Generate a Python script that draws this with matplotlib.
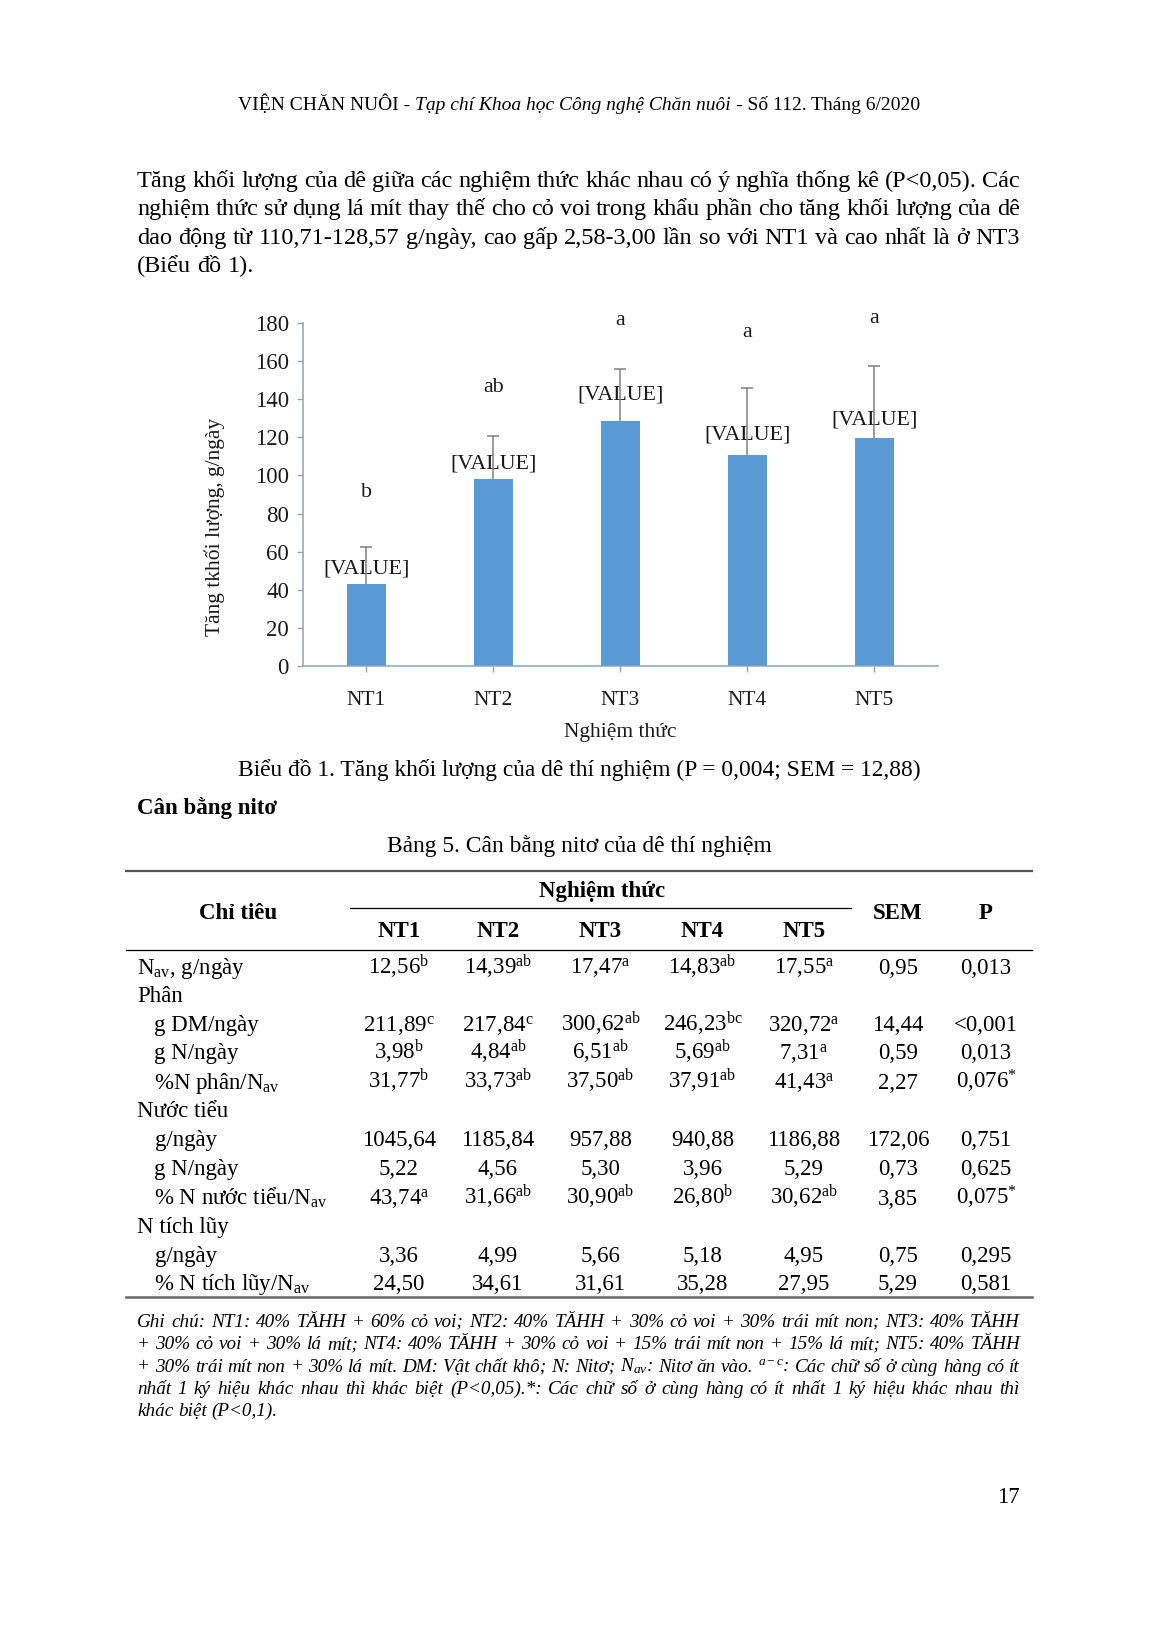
import matplotlib
matplotlib.use("Agg")
import matplotlib.pyplot as plt
from matplotlib.lines import Line2D
import numpy as np

plt.rcParams['font.family'] = ['Liberation Serif', 'DejaVu Serif']
plt.rcParams['mathtext.fontset'] = 'custom'
plt.rcParams['mathtext.rm'] = 'Liberation Serif'
plt.rcParams['mathtext.it'] = 'Liberation Serif:italic'
plt.rcParams['mathtext.bf'] = 'Liberation Serif:bold'

# ---- dữ liệu biểu đồ 1 ----
treatments = ['NT1', 'NT2', 'NT3', 'NT4', 'NT5']
gain = [42.86, 97.86, 128.57, 110.71, 119.64]
gain_err = [19.7, 22.8, 27.0, 35.3, 37.5]
letters = ['b', 'ab', 'a', 'a', 'a']
value_labels = ['[VALUE]', '[VALUE]', '[VALUE]', '[VALUE]', '[VALUE]']
yticks = [0, 20, 40, 60, 80, 100, 120, 140, 160, 180]

# vị trí (trục y) của nhãn
label_y = [51, 106, 142, 121, 129]
letter_y = [91, 146, 181, 175, 182]

# ---- dữ liệu bảng 5 ----
col_heads = ['NT1', 'NT2', 'NT3', 'NT4', 'NT5']
row_names = ['N$_{\\mathrm{av}}$, g/ngày', 'Phân', 'g DM/ngày', 'g N/ngày',
             '%N phân/N$_{\\mathrm{av}}$', 'Nước tiểu', 'g/ngày', 'g N/ngày',
             '% N nước tiểu/N$_{\\mathrm{av}}$', 'N tích lũy', 'g/ngày',
             '% N tích lũy/N$_{\\mathrm{av}}$']
row_indent = [0, 0, 1, 1, 1, 0, 1, 1, 1, 0, 1, 1]
row_vals = [
    ['12,56', '14,39', '17,47', '14,83', '17,55'],
    None,
    ['211,89', '217,84', '300,62', '246,23', '320,72'],
    ['3,98', '4,84', '6,51', '5,69', '7,31'],
    ['31,77', '33,73', '37,50', '37,91', '41,43'],
    None,
    ['1045,64', '1185,84', '957,88', '940,88', '1186,88'],
    ['5,22', '4,56', '5,30', '3,96', '5,29'],
    ['43,74', '31,66', '30,90', '26,80', '30,62'],
    None,
    ['3,36', '4,99', '5,66', '5,18', '4,95'],
    ['24,50', '34,61', '31,61', '35,28', '27,95'],
]
row_sups = [
    ['b', 'ab', 'a', 'ab', 'a'],
    None,
    ['c', 'c', 'ab', 'bc', 'a'],
    ['b', 'ab', 'ab', 'ab', 'a'],
    ['b', 'ab', 'ab', 'ab', 'a'],
    None,
    ['', '', '', '', ''],
    ['', '', '', '', ''],
    ['a', 'ab', 'ab', 'b', 'ab'],
    None,
    ['', '', '', '', ''],
    ['', '', '', '', ''],
]
row_sem = ['0,95', '', '14,44', '0,59', '2,27', '', '172,06', '0,73', '3,85', '', '0,75', '5,29']
row_p = ['0,013', '', '<0,001', '0,013', '0,076$^{*}$', '', '0,751', '0,625',
         '0,075$^{*}$', '', '0,295', '0,581']

header = [('VIỆN CHĂN NUÔI -', 'normal'), ('Tạp chí Khoa học Công nghệ Chăn nuôi', 'italic'),
          ('- Số 112. Tháng 6/2020', 'normal')]
para = ["Tăng khối lượng của dê giữa các nghiệm thức khác nhau có ý nghĩa thống kê (P<0,05). Các",
        "nghiệm thức sử dụng lá mít thay thế cho cỏ voi trong khẩu phần cho tăng khối lượng của dê",
        "dao động từ 110,71-128,57 g/ngày, cao gấp 2,58-3,00 lần so với NT1 và cao nhất là ở NT3",
        "(Biểu đồ 1)."]
notes = ["Ghi chú: NT1: 40% TĂHH + 60% cỏ voi; NT2: 40% TĂHH + 30% cỏ voi + 30% trái mít non; NT3: 40% TĂHH",
         "+ 30% cỏ voi + 30% lá mít; NT4: 40% TĂHH + 30% cỏ voi + 15% trái mít non + 15% lá mít; NT5: 40% TĂHH",
         "+ 30% trái mít non + 30% lá mít. DM: Vật chất khô; N: Nitơ; N$_{av}$: Nitơ ăn vào. $^{a-c}$: Các chữ số ở cùng hàng có ít",
         "nhất 1 ký hiệu khác nhau thì khác biệt (P<0,05).*: Các chữ số ở cùng hàng có ít nhất 1 ký hiệu khác nhau thì",
         "khác biệt (P<0,1)."]

W, H = 1158, 1637
fig = plt.figure(figsize=(W / 100, H / 100), dpi=100)
fig.patch.set_facecolor('white')
renderer = fig.canvas.get_renderer()


def put(x, y, s, size, **kw):
    base = y + 0.3 * size * 100 / 72
    return fig.text(x / W, 1 - base / H, s, fontsize=size, va='baseline', **kw)


def width_of(s, size, **kw):
    t = fig.text(0, 0, s, fontsize=size, **kw)
    w = t.get_window_extent(renderer).width
    t.remove()
    return w


def justify(line, x0, x1, y, size, last=False, **kw):
    words = line.split(' ')
    ws = [width_of(w, size, **kw) for w in words]
    if last:
        gap = width_of('a a', size, **kw) - width_of('aa', size, **kw)
    else:
        gap = (x1 - x0 - sum(ws)) / (len(words) - 1)
    x = x0
    for w, wd in zip(words, ws):
        put(x, y, w, size, **kw)
        x += wd + gap


def hline(x0, x1, y, lw=1.0, color='black'):
    fig.add_artist(Line2D([x0 / W, x1 / W], [1 - y / H, 1 - y / H],
                          transform=fig.transFigure, color=color, lw=lw))


# tiêu đề trang
hs = 14.0
sp = width_of('a a', hs) - width_of('aa', hs)
hw = [width_of(t, hs, fontstyle=st) for t, st in header]
x = 579 - (sum(hw) + 2 * sp) / 2
for (t, st), w in zip(header, hw):
    put(x, 104, t, hs, fontstyle=st)
    x += w + sp

# đoạn văn
for i, line in enumerate(para):
    justify(line, 137, 1020, 180 + 28.2 * i, 17.5, last=(i == len(para) - 1))

# ---- biểu đồ ----
axc = '#8AA4C0'
tc = '#1A1A1A'
ax = fig.add_axes([302.8 / W, 1 - 666.2 / H, 634.9 / W, 343.5 / H])
xs = np.arange(len(treatments))
ax.bar(xs, gain, width=0.31, color='#5B9BD5', zorder=2)
tops = np.array(gain) + np.array(gain_err)
ax.vlines(xs, gain, tops, color='#7F7F7F', lw=1.1, zorder=4)
ax.plot(xs, tops, ls='none', marker='_', ms=9, mew=1.1, color='#7F7F7F', zorder=4)
for i in range(len(xs)):
    ax.text(xs[i], label_y[i], value_labels[i], ha='center', va='center',
            fontsize=15.8, color=tc, zorder=3)
    ax.text(xs[i], letter_y[i], letters[i], ha='center', va='center',
            fontsize=15.8, color=tc, zorder=3)
ax.set_xlim(-0.5, 4.5)
ax.set_ylim(0, 180)
ax.set_xticks(xs)
ax.set_xticklabels(treatments)
ax.set_yticks(yticks)
for s in ['top', 'right']:
    ax.spines[s].set_visible(False)
for s in ['left', 'bottom']:
    ax.spines[s].set_color(axc)
    ax.spines[s].set_linewidth(1.1)
ax.tick_params(axis='y', length=4, width=1, color=axc, pad=6, labelsize=16.5, labelcolor=tc)
ax.tick_params(axis='x', length=4, width=1, color=axc, pad=13.5, labelsize=15.5, labelcolor=tc)
ax.set_xlabel('Nghiệm thức', fontsize=15.5, va='center', color=tc)
ax.xaxis.set_label_coords(0.5, -0.192)
ax.set_ylabel('Tăng tkhối lượng, g/ngày', fontsize=15.5, va='center', ha='center', color=tc)
ax.yaxis.set_label_coords(-0.138, 0.405)
ax.set_facecolor('white')

# chú thích biểu đồ
put(579.5, 768.5, 'Biểu đồ 1. Tăng khối lượng của dê thí nghiệm (P = 0,004; SEM = 12,88)', 16.9, ha='center')
put(137, 807, 'Cân bằng nitơ', 16.5, fontweight='bold')
put(579.5, 845, 'Bảng 5. Cân bằng nitơ của dê thí nghiệm', 16.9, ha='center')

# ---- bảng ----
col_x = [399, 498, 600.5, 702.5, 804]
sem_x, p_x = 898, 986
ts = 16.5
hline(126, 1032, 871, lw=1.6, color='#555555')
put(602.5, 890.5, 'Nghiệm thức', ts, ha='center', fontweight='bold')
hline(350, 851, 907.5, lw=0.9)
put(238, 912.5, 'Chỉ tiêu', ts, ha='center', fontweight='bold')
put(sem_x, 912.5, 'SEM', ts, ha='center', fontweight='bold')
put(p_x, 912.5, 'P', ts, ha='center', fontweight='bold')
for cx, c in zip(col_x, col_heads):
    put(cx, 930.5, c, ts, ha='center', fontweight='bold')
hline(126, 1032, 950, lw=0.9)

row_y = [967, 995, 1024.4, 1052.6, 1081.8, 1110, 1139.2, 1168.5, 1197.7, 1226, 1255, 1283.3]
for i, name in enumerate(row_names):
    y = row_y[i]
    put(137 + 17.5 * row_indent[i], y, name, ts)
    if row_vals[i] is None:
        continue
    for cx, v, sup in zip(col_x, row_vals[i], row_sups[i]):
        s = v + ('$^{\\mathrm{%s}}$' % sup if sup else '')
        put(cx, y, s, ts, ha='center')
    put(sem_x, y, row_sem[i], ts, ha='center')
    put(p_x, y, row_p[i], ts, ha='center')
hline(126, 1032, 1297, lw=1.8, color='#666666')

# ghi chú
for i, line in enumerate(notes):
    justify(line, 137, 1020, 1321 + 22.4 * i, 13.8, last=(i == len(notes) - 1), fontstyle='italic')

put(1008, 1496, '17', 16.5, ha='center')

fig.savefig('out.png', dpi=100, facecolor='white')
